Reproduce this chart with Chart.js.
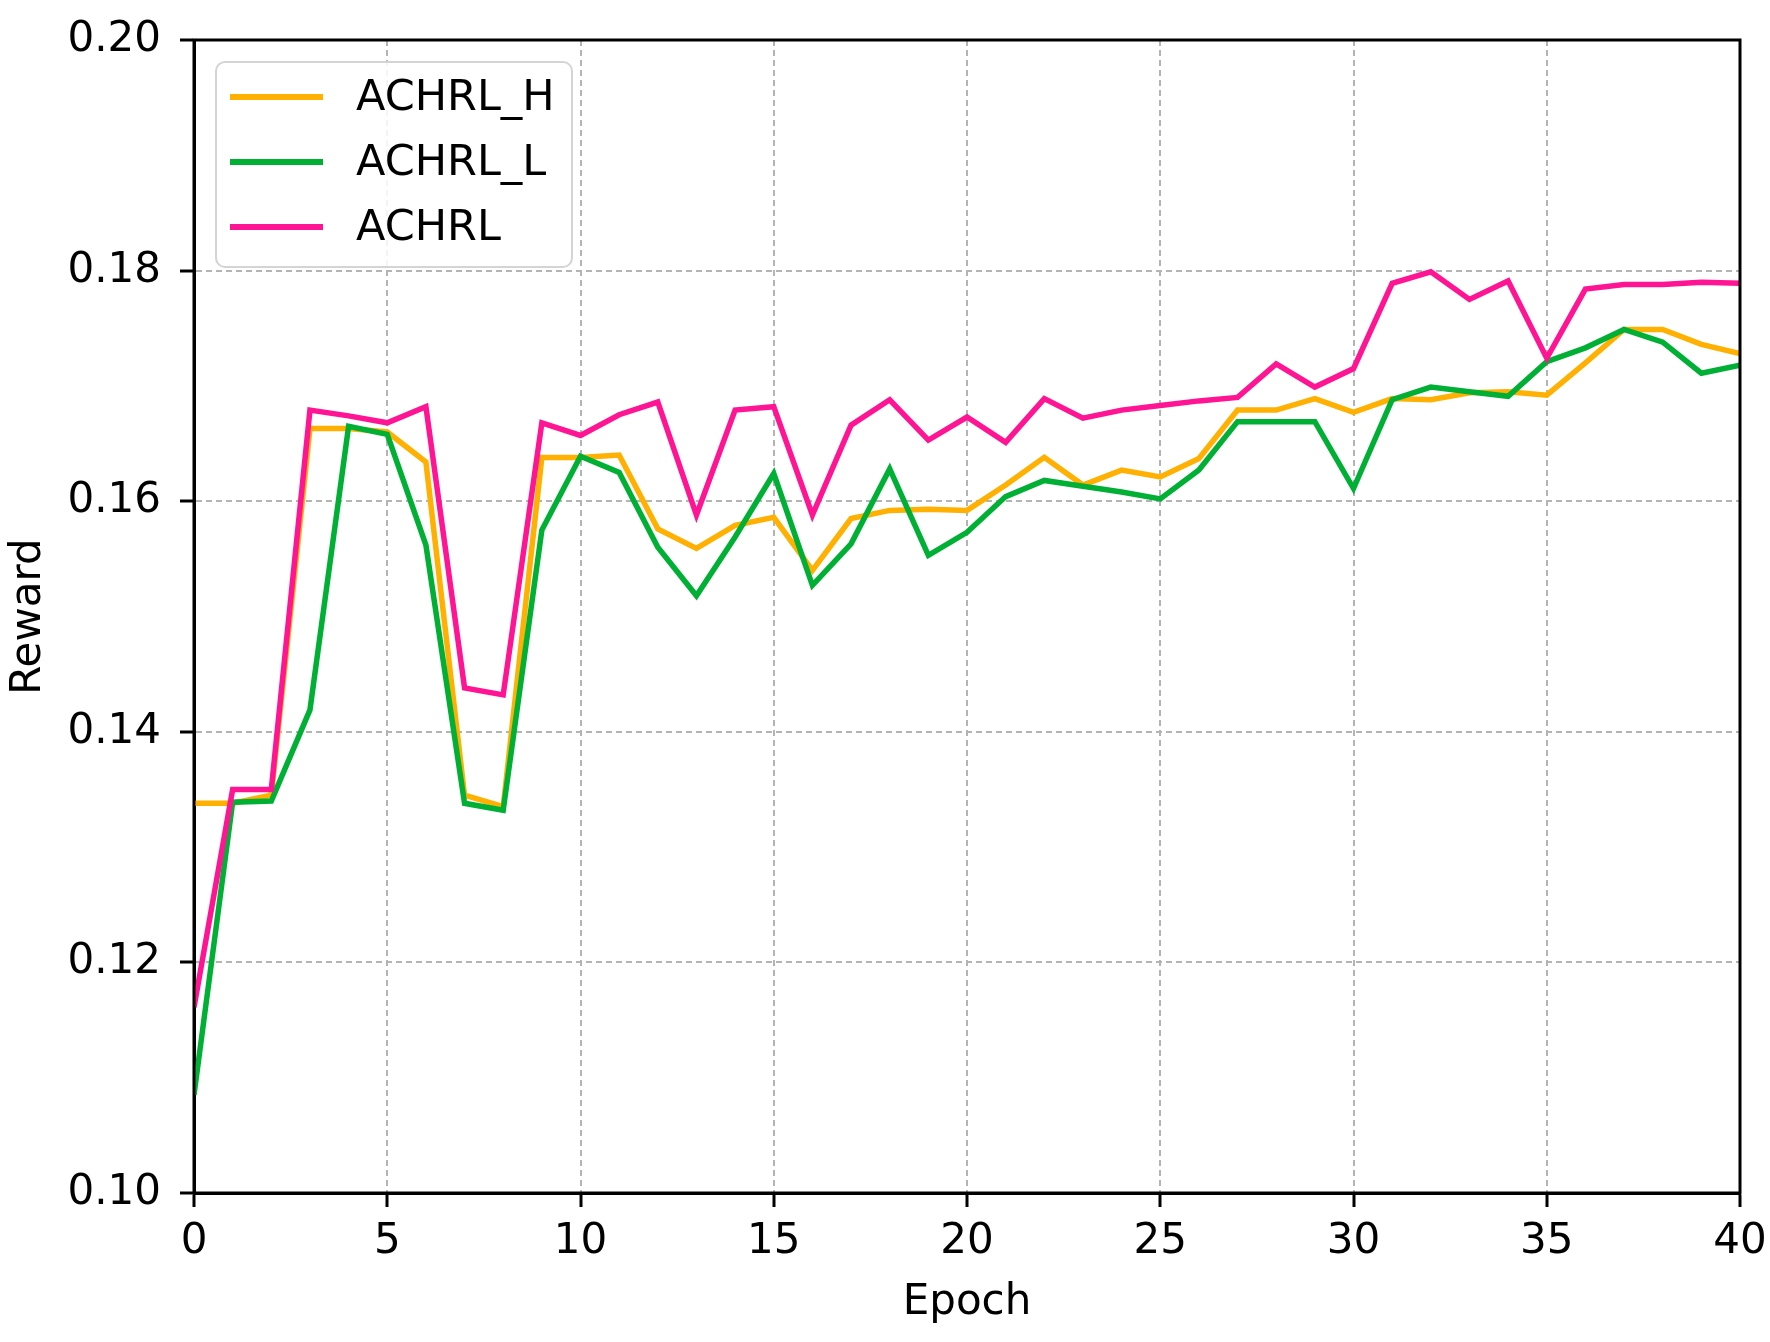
<!DOCTYPE html>
<html>
<head>
<meta charset="utf-8">
<script src="https://cdn.jsdelivr.net/npm/chart.js@4.4.1/dist/chart.umd.min.js"></script>
<style>
  html, body { margin: 0; padding: 0; background: #fff; }
  canvas { display: block; }
</style>
</head>
<body>
<canvas id="rewardChart" width="1770" height="1342"></canvas>
<script>
// data
const epochs = [0, 1, 2, 3, 4, 5, 6, 7, 8, 9, 10, 11, 12, 13, 14, 15, 16, 17, 18, 19, 20,
                21, 22, 23, 24, 25, 26, 27, 28, 29, 30, 31, 32, 33, 34, 35, 36, 37, 38, 39, 40];

const achrlH = [0.1338, 0.1338, 0.1345, 0.1663, 0.1663, 0.1660, 0.1634, 0.1345, 0.1335, 0.1638,
                0.1638, 0.1640, 0.1576, 0.1559, 0.1579, 0.1586, 0.1540, 0.1585, 0.1592, 0.1593,
                0.1592, 0.1614, 0.1638, 0.1614, 0.1627, 0.1621, 0.1637, 0.1679, 0.1679, 0.1689,
                0.1677, 0.1689, 0.1688, 0.1694, 0.1695, 0.1692, 0.1720, 0.1749, 0.1749, 0.1736,
                0.1728];

const achrlL = [0.1085, 0.1339, 0.1340, 0.1419, 0.1665, 0.1658, 0.1562, 0.1338, 0.1332, 0.1575,
                0.1639, 0.1625, 0.1560, 0.1518, 0.1569, 0.1624, 0.1527, 0.1563, 0.1628, 0.1553,
                0.1573, 0.1604, 0.1618, 0.1613, 0.1608, 0.1602, 0.1627, 0.1669, 0.1669, 0.1669,
                0.1611, 0.1688, 0.1699, 0.1695, 0.1691, 0.1721, 0.1733, 0.1749, 0.1738, 0.1711,
                0.1718];

const achrl = [0.1161, 0.1350, 0.1350, 0.1679, 0.1674, 0.1668, 0.1682, 0.1438, 0.1432, 0.1668,
               0.1657, 0.1675, 0.1686, 0.1588, 0.1679, 0.1682, 0.1588, 0.1666, 0.1688, 0.1653,
               0.1673, 0.1651, 0.1689, 0.1672, 0.1679, 0.1683, 0.1687, 0.1690, 0.1719, 0.1699,
               0.1715, 0.1789, 0.1799, 0.1775, 0.1791, 0.1724, 0.1784, 0.1788, 0.1788, 0.1790,
               0.1789];

const seriesNames = ['ACHRL_H', 'ACHRL_L', 'ACHRL'];
const seriesColors = ['#ffb000', '#00b035', '#ff1493'];

Chart.defaults.font.family = "'DejaVu Sans', sans-serif";
Chart.defaults.font.size = 42;
Chart.defaults.color = '#000';

function toPoints(values) {
    return epochs.map((e, i) => ({ x: e, y: values[i] }));
}

// black box round the plot, like matplotlib spines
const frameBox = {
    id: 'frameBox',
    afterDatasetsDraw(chart) {
        const { ctx, chartArea: a } = chart;
        ctx.save();
        ctx.strokeStyle = '#000';
        ctx.lineWidth = 3;
        ctx.strokeRect(a.left, a.top, a.right - a.left, a.bottom - a.top);
        ctx.restore();
    }
};

// legend inside the upper left corner
const innerLegend = {
    id: 'innerLegend',
    afterDraw(chart) {
        const { ctx, chartArea: a } = chart;
        const x = a.left + 22, y = a.top + 22, w = 356, h = 205;
        ctx.save();
        ctx.beginPath();
        ctx.roundRect(x, y, w, h, 9);
        ctx.fillStyle = 'rgba(255,255,255,0.85)';
        ctx.fill();
        ctx.strokeStyle = '#d4d4d4';
        ctx.lineWidth = 2;
        ctx.stroke();
        ctx.font = "43px 'DejaVu Sans'";
        ctx.textBaseline = 'middle';
        ctx.fillStyle = '#000';
        chart.data.datasets.forEach((ds, i) => {
            const rowY = y + 35 + i * 65;
            ctx.beginPath();
            ctx.moveTo(x + 14, rowY);
            ctx.lineTo(x + 107, rowY);
            ctx.strokeStyle = ds.borderColor;
            ctx.lineWidth = 6;
            ctx.stroke();
            ctx.fillText(ds.label, x + 140, rowY + 2);
        });
        ctx.restore();
    }
};

const ctx = document.getElementById('rewardChart').getContext('2d');
new Chart(ctx, {
    type: 'line',
    data: {
        datasets: [
            { label: seriesNames[0], data: toPoints(achrlH), borderColor: seriesColors[0], order: 3 },
            { label: seriesNames[1], data: toPoints(achrlL), borderColor: seriesColors[1], order: 2 },
            { label: seriesNames[2], data: toPoints(achrl), borderColor: seriesColors[2], order: 1 }
        ]
    },
    options: {
        responsive: false,
        animation: false,
        layout: { padding: { left: 0, right: 30, top: 40, bottom: 0 } },
        elements: {
            line: { borderWidth: 5.5, tension: 0, fill: false },
            point: { radius: 0 }
        },
        plugins: { legend: { display: false }, tooltip: { enabled: false } },
        scales: {
            x: {
                type: 'linear',
                min: 0,
                max: 40,
                afterFit(s) { s.height = 149; s.paddingLeft = 0; s.paddingRight = 0; },
                ticks: { stepSize: 5, padding: 10, maxRotation: 0 },
                grid: {
                    color: '#b4b4b4', lineWidth: 2,
                    tickColor: '#000', tickWidth: 3, tickLength: 14, tickBorderDash: []
                },
                border: { display: true, color: '#000', width: 3, dash: [6, 4] },
                title: { display: true, text: 'Epoch', padding: { top: 0, bottom: 14 } }
            },
            y: {
                min: 0.10,
                max: 0.20,
                afterFit(s) { s.width = 194; s.paddingTop = 0; s.paddingBottom = 0; },
                ticks: {
                    stepSize: 0.02,
                    padding: 19,
                    callback: v => v.toFixed(2)
                },
                grid: {
                    color: '#b4b4b4', lineWidth: 2,
                    tickColor: '#000', tickWidth: 3, tickLength: 14, tickBorderDash: []
                },
                border: { display: true, color: '#000', width: 3, dash: [6, 4] },
                title: { display: true, text: 'Reward', padding: { top: 4, bottom: 0 } }
            }
        }
    },
    plugins: [frameBox, innerLegend]
});
</script>
</body>
</html>
